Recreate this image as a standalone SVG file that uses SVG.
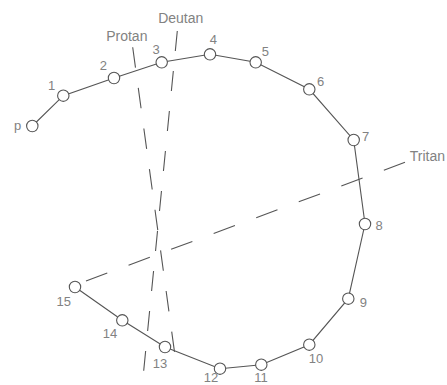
<svg xmlns="http://www.w3.org/2000/svg" width="447" height="385" viewBox="0 0 447 385">
<style>
.edge{stroke:#555;stroke-width:1.1;fill:none}
.node circle{fill:#fff;stroke:#555;stroke-width:1.1}
.num{font-family:"Liberation Sans",Arial,sans-serif;font-size:13px;fill:#828282;text-anchor:middle}
.lab{font-family:"Liberation Sans",Arial,sans-serif;font-size:14px;fill:#828282}
.conf{stroke:#555;stroke-width:1.1;fill:none}
</style>
<rect width="447" height="385" fill="#fff"/>
<g id="confusion-lines">
<line class="conf" x1="132.7" y1="47.3" x2="174.5" y2="352" stroke-dasharray="20.5 20.5"/>
<line class="conf" x1="177.3" y1="31" x2="143.7" y2="370.7" stroke-dasharray="20.1 20.1"/>
<line class="conf" x1="86" y1="281" x2="405" y2="162.3" stroke-dasharray="22.7 22.7"/>
<text class="lab" x="106.2" y="40.7">Protan</text>
<text class="lab" x="158.2" y="23.3">Deutan</text>
<text class="lab" x="409.7" y="160.7">Tritan</text>
</g>
<g id="connectors">
<polyline class="edge" points="32.3,126 63.3,95.7 114,78 161.7,62.3 210,54.3 255.7,62.3 309.3,89.3 353.7,140 365,224 348.3,298.7 309.3,344.7 261.3,364.7 220,368.7 165,347 122.3,320.3 75,287"/>
</g>
<g id="node-p" class="node"><circle cx="32.3" cy="126" r="5.7"/><text class="num" x="17.5" y="129.5">p</text></g>
<g id="node-1" class="node"><circle cx="63.3" cy="95.7" r="5.7"/><text class="num" x="51.5" y="90">1</text></g>
<g id="node-2" class="node"><circle cx="114" cy="78" r="5.7"/><text class="num" x="103.3" y="70">2</text></g>
<g id="node-3" class="node"><circle cx="161.7" cy="62.3" r="5.7"/><text class="num" x="156" y="54">3</text></g>
<g id="node-4" class="node"><circle cx="210" cy="54.3" r="5.7"/><text class="num" x="213.3" y="43.5">4</text></g>
<g id="node-5" class="node"><circle cx="255.7" cy="62.3" r="5.7"/><text class="num" x="265.3" y="55.5">5</text></g>
<g id="node-6" class="node"><circle cx="309.3" cy="89.3" r="5.7"/><text class="num" x="320.7" y="86">6</text></g>
<g id="node-7" class="node"><circle cx="353.7" cy="140" r="5.7"/><text class="num" x="365.7" y="140.5">7</text></g>
<g id="node-8" class="node"><circle cx="365" cy="224" r="5.7"/><text class="num" x="379" y="229.5">8</text></g>
<g id="node-9" class="node"><circle cx="348.3" cy="298.7" r="5.7"/><text class="num" x="363.3" y="307">9</text></g>
<g id="node-10" class="node"><circle cx="309.3" cy="344.7" r="5.7"/><text class="num" x="316" y="363">10</text></g>
<g id="node-11" class="node"><circle cx="261.3" cy="364.7" r="5.7"/><text class="num" x="261" y="381.5">11</text></g>
<g id="node-12" class="node"><circle cx="220" cy="368.7" r="5.7"/><text class="num" x="211" y="381.5">12</text></g>
<g id="node-13" class="node"><circle cx="165" cy="347" r="5.7"/><text class="num" x="160" y="368">13</text></g>
<g id="node-14" class="node"><circle cx="122.3" cy="320.3" r="5.7"/><text class="num" x="110" y="338">14</text></g>
<g id="node-15" class="node"><circle cx="75" cy="287" r="5.7"/><text class="num" x="63.7" y="306">15</text></g>
</svg>
